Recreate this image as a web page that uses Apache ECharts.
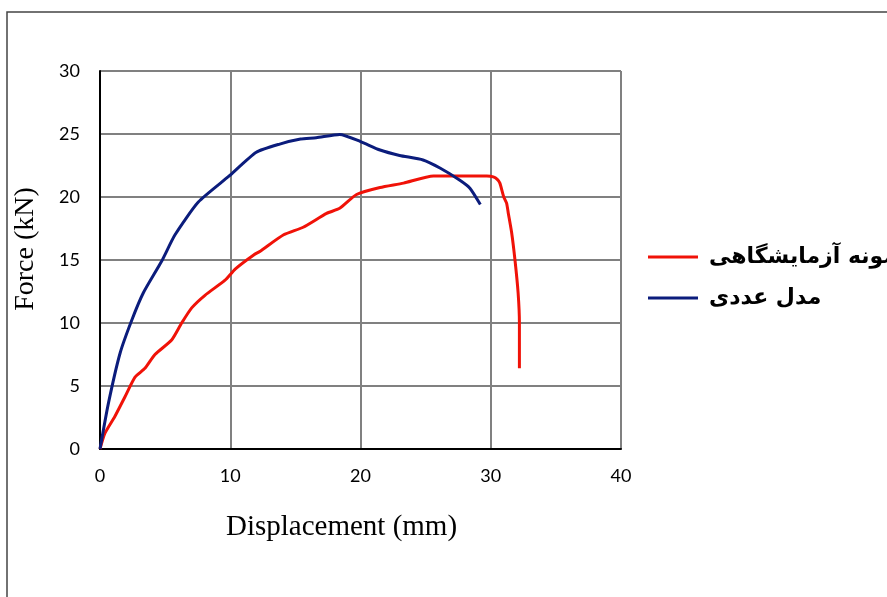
<!DOCTYPE html>
<html>
<head>
<meta charset="utf-8">
<script src="https://cdn.jsdelivr.net/npm/echarts@6/dist/echarts.min.js"></script>
<style>
  html, body { margin: 0; padding: 0; background: #fff; }
  #chart { width: 887px; height: 597px; }
</style>
</head>
<body>
<div id="chart"></div>
<script>
// experimental specimen (red)
const expDisp = [0, 0.38, 1.15, 1.92, 2.69, 3.45, 4.22, 5.5, 6.27, 7.04, 8.06, 9.6, 10.4, 11.8, 12.3, 14.1, 15.6, 17.4, 18.4, 19.7, 21.5, 23.3, 25.6, 29.7, 30.2, 30.5, 30.7, 31.0, 31.22, 31.35, 31.6, 31.86, 32.1, 32.2, 32.2];
const expForce = [0, 1.25, 2.6, 4.15, 5.7, 6.4, 7.5, 8.65, 10.0, 11.2, 12.2, 13.4, 14.3, 15.4, 15.7, 17.0, 17.6, 18.7, 19.1, 20.2, 20.75, 21.1, 21.67, 21.67, 21.6, 21.4, 21.1, 20.0, 19.5, 18.7, 17.2, 15.0, 12.4, 10.0, 6.4];
// numerical model (blue)
const numDisp = [0, 0.64, 1.54, 2.43, 3.33, 4.73, 5.76, 7.55, 9.9, 12.0, 13.8, 15.4, 16.6, 18.4, 20.0, 21.5, 23.0, 24.8, 26.1, 27.6, 28.4, 29.2];
const numForce = [0, 3.6, 7.6, 10.2, 12.4, 14.9, 17.0, 19.6, 21.65, 23.55, 24.2, 24.6, 24.7, 24.97, 24.4, 23.73, 23.3, 22.94, 22.3, 21.35, 20.7, 19.4];

const seriesNames = ['نمونه آزمایشگاهی', 'مدل عددی'];

function pairs(xs, ys) {
  const out = [];
  for (let i = 0; i < xs.length; i++) {
    out.push([xs[i], ys[i]]);
  }
  return out;
}

const myChart = echarts.init(document.getElementById('chart'));
const tickFont = { color: '#000', fontSize: 18, fontFamily: 'Lato' };
const gridLine = { show: true, lineStyle: { color: '#808080', width: 2 } };

myChart.setOption({
  animation: false,
  backgroundColor: '#fff',
  graphic: [
    {
      type: 'rect',
      shape: { x: 7, y: 12, width: 1000, height: 1000 },
      style: { fill: 'none', stroke: '#444', lineWidth: 1.5 }
    }
  ],
  grid: { left: 100, top: 71, right: 266, bottom: 148 },
  legend: {
    orient: 'vertical',
    left: 643,
    top: 241,
    itemWidth: 50,
    itemHeight: 3,
    itemGap: 19,
    icon: 'rect',
    data: seriesNames,
    textStyle: { color: '#000', fontSize: 22, fontWeight: 'bold', fontFamily: 'DejaVu Sans', padding: [0, 0, 0, 6] }
  },
  xAxis: {
    type: 'value',
    min: 0,
    max: 40,
    interval: 10,
    name: 'Displacement (mm)',
    nameLocation: 'middle',
    nameGap: 64,
    nameTextStyle: { color: '#000', fontSize: 29, fontFamily: 'Liberation Serif', padding: [0, 38, 0, 0] },
    axisLine: { show: true, lineStyle: { color: '#000', width: 2 } },
    axisTick: { show: false },
    axisLabel: Object.assign({ margin: 18 }, tickFont),
    splitLine: gridLine
  },
  yAxis: {
    type: 'value',
    min: 0,
    max: 30,
    interval: 5,
    name: 'Force (kN)',
    nameLocation: 'middle',
    nameGap: 60,
    nameTextStyle: { color: '#000', fontSize: 28, fontFamily: 'Liberation Serif', padding: [0, 0, 0, 22] },
    axisLine: { show: true, lineStyle: { color: '#000', width: 2 } },
    axisTick: { show: false },
    axisLabel: Object.assign({ margin: 20 }, tickFont),
    splitLine: gridLine
  },
  series: [
    {
      name: seriesNames[0],
      type: 'line',
      data: pairs(expDisp, expForce),
      showSymbol: false,
      smooth: 0.2,
      itemStyle: { color: '#F01208' },
      lineStyle: { color: '#F01208', width: 3 }
    },
    {
      name: seriesNames[1],
      type: 'line',
      data: pairs(numDisp, numForce),
      showSymbol: false,
      smooth: 0.2,
      itemStyle: { color: '#0B1C7C' },
      lineStyle: { color: '#0B1C7C', width: 3 }
    }
  ]
});
</script>
</body>
</html>
